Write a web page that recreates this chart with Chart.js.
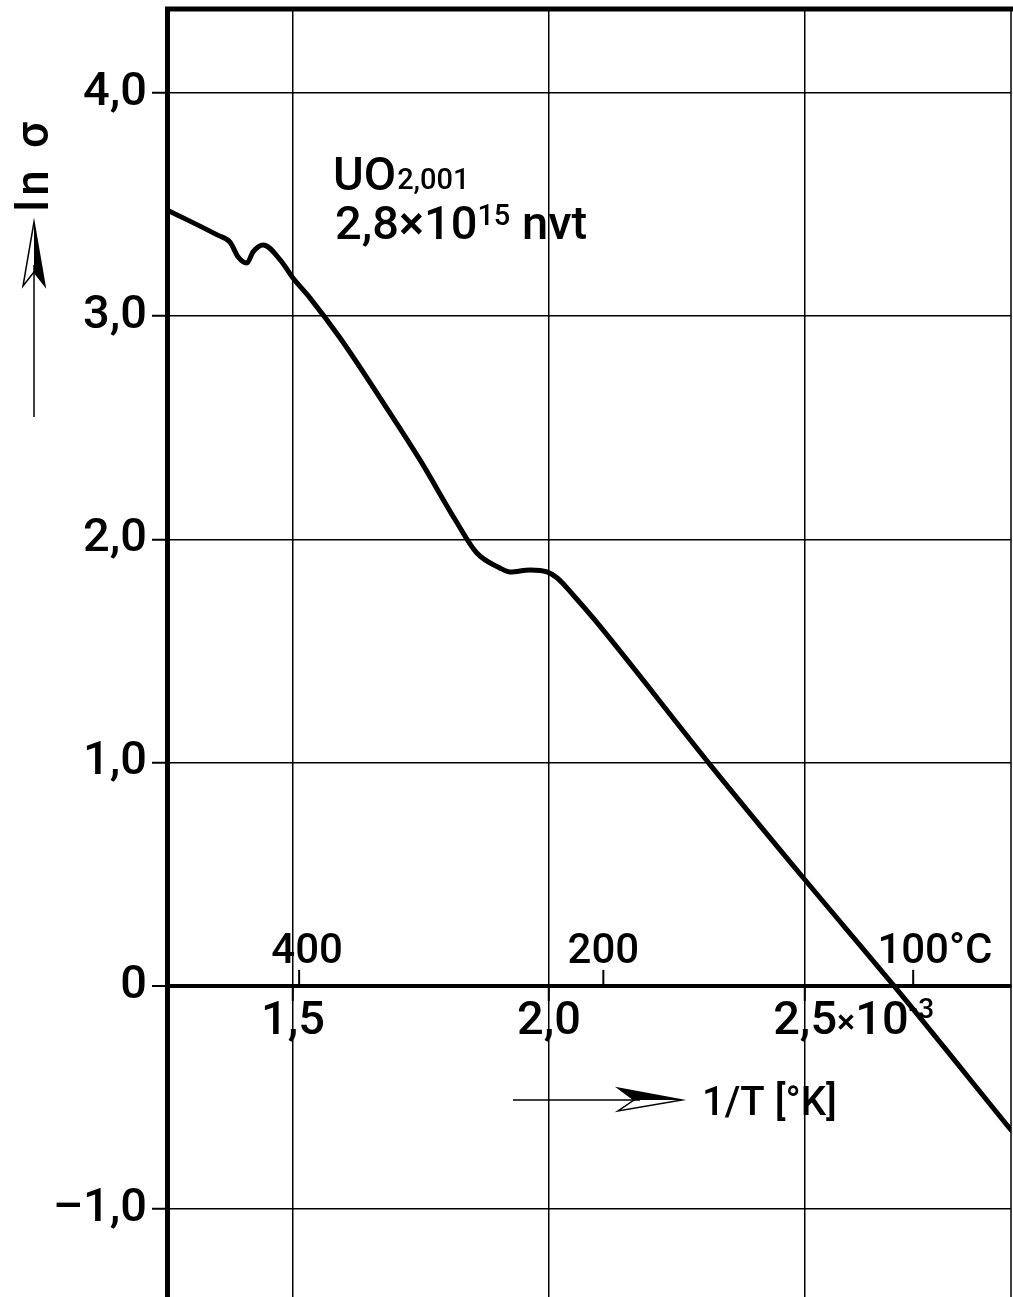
<!DOCTYPE html>
<html>
<head>
<meta charset="utf-8">
<script src="https://cdn.jsdelivr.net/npm/chart.js@4.4.1/dist/chart.umd.min.js"></script>
<style>
  html, body { margin: 0; background: #fff; }
</style>
</head>
<body>
<canvas id="canvas" width="1013" height="1297"></canvas>
<script>
// 1/T in units of 10^-3 K^-1
const invT = [1.254, 1.352, 1.377, 1.393, 1.410, 1.422, 1.442, 1.475, 1.500, 1.533,
  1.592, 1.670, 1.748, 1.817, 1.859, 1.904, 1.924, 1.963, 1.996, 2.016,
  2.047, 2.086, 2.315, 2.500, 2.672, 2.902]
// ln sigma
const lnSigma = [3.476, 3.364, 3.332, 3.265, 3.238, 3.288, 3.319, 3.252, 3.171, 3.082,
  2.902, 2.634, 2.356, 2.087, 1.939, 1.872, 1.854, 1.863, 1.854, 1.827,
  1.751, 1.648, 0.989, 0.474, 0.004, -0.646]

const xTicks = [1.5, 2.0, 2.5]
const xTickLabels = ["1,5", "2,0", "2,5"]
const yTicks = [-1, 0, 1, 2, 3, 4]
const yTickLabels = ["\u20131,0", "0", "1,0", "2,0", "3,0", "4,0"]
// temperature scale (°C) marked above the zero line
const celsiusPos = [1.512, 2.106, 2.711]
const celsiusLabels = ["400", "200", "100"]

const FONT = 'Roboto, "Liberation Sans", Arial, sans-serif'
const W = "500 "
const TICK_SIZE = 47

const extras = {
  id: "extras",
  afterDraw(chart) {
    const { ctx, chartArea: a, scales: { x, y } } = chart
    ctx.save()
    ctx.strokeStyle = "#000"
    ctx.fillStyle = "#000"

    // frame: heavy top, thin right
    ctx.lineWidth = 5
    ctx.beginPath(); ctx.moveTo(a.left - 2, a.top); ctx.lineTo(a.right + 2, a.top); ctx.stroke()
    ctx.lineWidth = 1.5
    ctx.beginPath(); ctx.moveTo(a.right, a.top); ctx.lineTo(a.right, a.bottom); ctx.stroke()

    const y0 = y.getPixelForValue(0)

    // °C ticks above the axis
    ctx.lineWidth = 2
    ctx.font = W + "42px " + FONT
    ctx.textAlign = "left"
    ctx.textBaseline = "alphabetic"
    celsiusPos.forEach((v, i) => {
      const px = x.getPixelForValue(v)
      ctx.beginPath(); ctx.moveTo(px, y0); ctx.lineTo(px, y0 - 16); ctx.stroke()
      const w = ctx.measureText(celsiusLabels[i]).width
      const txt = celsiusLabels[i] + (i === celsiusLabels.length - 1 ? "°C" : "")
      ctx.fillText(txt, px - w / 2 + (i === 0 ? 8 : 0), y0 - 23)
    })

    // "×10^-3" after the last x tick label
    const midY = y0 + 13 + TICK_SIZE / 2
    ctx.font = W + TICK_SIZE + "px " + FONT
    const lastPx = x.getPixelForValue(xTicks[xTicks.length - 1])
    let cx = lastPx + ctx.measureText(xTickLabels[xTickLabels.length - 1]).width / 2
    ctx.textBaseline = "middle"
    ctx.font = W + "34px " + FONT
    ctx.fillText("×", cx, midY + 2)
    cx += ctx.measureText("×").width
    ctx.font = W + TICK_SIZE + "px " + FONT
    ctx.fillText("10", cx, midY)
    cx += ctx.measureText("10").width
    ctx.font = W + "28px " + FONT
    ctx.fillText("-3", cx, midY - 11)

    // sample label
    ctx.textBaseline = "alphabetic"
    ctx.font = W + "47px " + FONT
    ctx.fillText("UO", 333, 190)
    const ux = 333 + ctx.measureText("UO").width
    ctx.font = W + "29px " + FONT
    ctx.fillText("2,001", ux + 1, 189)

    ctx.font = W + "47px " + FONT
    ctx.fillText("2,8×10", 335, 239)
    let lx = 335 + ctx.measureText("2,8×10").width
    ctx.font = W + "29px " + FONT
    ctx.fillText("15", lx, 225)
    lx += ctx.measureText("15").width
    ctx.font = W + "47px " + FONT
    ctx.fillText(" nvt", lx, 239)

    // x axis title with arrow
    ctx.font = W + "40px " + FONT
    ctx.fillText("1/T [°K]", 702, 1115)
    ctx.lineWidth = 1.5
    ctx.beginPath(); ctx.moveTo(513, 1100); ctx.lineTo(640, 1100); ctx.stroke()
    ctx.beginPath()
    ctx.moveTo(682, 1100); ctx.lineTo(618, 1088); ctx.lineTo(634, 1100); ctx.closePath()
    ctx.fill()
    ctx.beginPath()
    ctx.moveTo(682, 1100); ctx.lineTo(618, 1088); ctx.lineTo(634, 1100); ctx.lineTo(618, 1111); ctx.closePath()
    ctx.stroke()

    // y axis title (rotated) with arrow
    ctx.font = W + "46px " + FONT
    ctx.textAlign = "center"
    const chars = [["l", 206], ["n", 183], ["σ", 135]]
    chars.forEach(([c, cy]) => {
      ctx.save()
      ctx.translate(48, cy)
      ctx.rotate(-Math.PI / 2)
      ctx.fillText(c, 0, 0)
      ctx.restore()
    })
    ctx.beginPath(); ctx.moveTo(34, 417); ctx.lineTo(34, 265); ctx.stroke()
    ctx.beginPath()
    ctx.moveTo(34, 222); ctx.lineTo(45, 286); ctx.lineTo(34, 272); ctx.closePath()
    ctx.fill()
    ctx.beginPath()
    ctx.moveTo(34, 222); ctx.lineTo(45, 286); ctx.lineTo(34, 272); ctx.lineTo(23, 286); ctx.closePath()
    ctx.stroke()

    ctx.restore()
  }
}

const noPad = s => { s.paddingTop = 0; s.paddingBottom = 0; s.paddingLeft = 0; s.paddingRight = 0 }

new Chart(document.getElementById("canvas"), {
  type: "line",
  data: {
    datasets: [{
      data: invT.map((v, i) => ({ x: v, y: lnSigma[i] })),
      borderColor: "#000",
      borderWidth: 5,
      borderCapStyle: "round",
      borderJoinStyle: "round",
      pointRadius: 0,
      cubicInterpolationMode: "monotone",
      fill: false
    }]
  },
  options: {
    responsive: false,
    animation: false,
    devicePixelRatio: 1,
    layout: { padding: { left: 0, top: 9, right: 2, bottom: 0 } },
    plugins: { legend: { display: false }, tooltip: { enabled: false } },
    scales: {
      x: {
        type: "linear",
        min: 1.254,
        max: 2.902,
        position: { y: 0 },
        afterBuildTicks: s => { s.ticks = xTicks.map(v => ({ value: v })) },
        afterFit: noPad,
        grid: { color: "#000", lineWidth: 1.5, drawTicks: true, tickLength: 13, tickWidth: 2, tickColor: "#000" },
        border: { display: true, width: 4, color: "#000" },
        ticks: {
          color: "#000",
          font: { family: FONT, size: TICK_SIZE, weight: "500", lineHeight: 1 },
          padding: 0,
          maxRotation: 0,
          autoSkip: false,
          callback: v => xTickLabels[xTicks.indexOf(v)]
        }
      },
      y: {
        type: "linear",
        min: -1.394,
        max: 4.376,
        position: "left",
        afterBuildTicks: s => { s.ticks = yTicks.map(v => ({ value: v })) },
        afterFit: s => { noPad(s); s.width = 167 },
        grid: {
          color: "#000",
          lineWidth: c => (c.tick && c.tick.value === 0 ? 4 : 1.5),
          drawTicks: true,
          tickLength: 15,
          tickWidth: 2,
          tickColor: "#000"
        },
        border: { display: true, width: 5, color: "#000" },
        ticks: {
          color: "#000",
          font: { family: FONT, size: TICK_SIZE, weight: "500", lineHeight: 1 },
          padding: 5,
          autoSkip: false,
          callback: v => yTickLabels[yTicks.indexOf(v)]
        }
      }
    }
  },
  plugins: [extras]
})
</script>
</body>
</html>
